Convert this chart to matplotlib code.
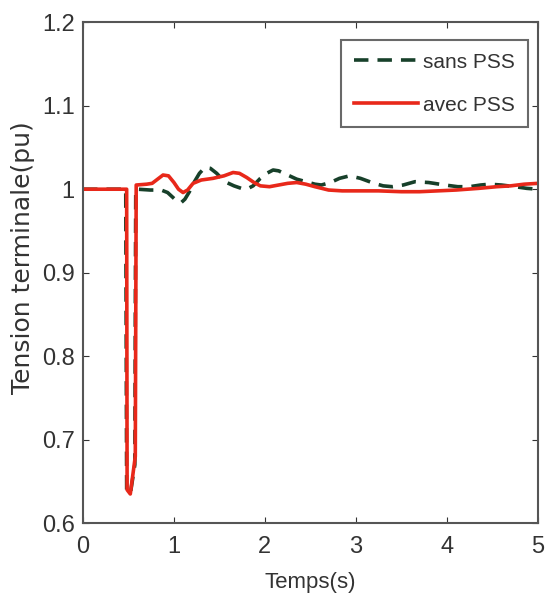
import matplotlib.pyplot as plt

# time (s) and terminal voltage (pu)
t_sans = [0, 0.47, 0.475, 0.48, 0.52, 0.57, 0.575, 0.58, 0.60, 0.74, 0.86, 0.93, 0.99, 1.04, 1.08,
          1.12, 1.17, 1.22, 1.28, 1.34, 1.40, 1.47, 1.53, 1.58, 1.66, 1.74, 1.80, 1.87, 1.95, 2.02,
          2.09, 2.15, 2.25, 2.35, 2.45, 2.55, 2.62, 2.72, 2.82, 2.93, 3.05, 3.20, 3.30, 3.40, 3.52,
          3.65, 3.80, 3.98, 4.12, 4.25, 4.37, 4.47, 4.60, 4.75, 4.88, 5.0]
v_sans = [1.0, 1.0, 0.82, 0.64, 0.635, 0.67, 0.85, 1.0, 1.0, 0.999, 0.999, 0.996, 0.99, 0.985, 0.984,
          0.988, 0.997, 1.008, 1.019, 1.026, 1.025, 1.019, 1.012, 1.008, 1.004, 1.001, 1.0, 1.004,
          1.013, 1.019, 1.023, 1.022, 1.017, 1.012, 1.009, 1.006, 1.005, 1.008, 1.013, 1.016, 1.013,
          1.007, 1.004, 1.003, 1.005, 1.009, 1.008, 1.005, 1.003, 1.003, 1.005, 1.006, 1.005, 1.003,
          1.001, 1.0]

t_avec = [0, 0.48, 0.485, 0.52, 0.575, 0.585, 0.70, 0.76, 0.82, 0.88, 0.94, 1.00, 1.05, 1.10,
          1.15, 1.21, 1.30, 1.43, 1.55, 1.65, 1.72, 1.80, 1.88, 1.95, 2.05, 2.15, 2.25, 2.35,
          2.45, 2.55, 2.70, 2.85, 3.0, 3.25, 3.5, 3.7, 3.9, 4.1, 4.35, 4.55, 4.7, 4.85, 5.0]
v_avec = [1.0, 1.0, 0.64, 0.635, 0.68, 1.005, 1.006, 1.007, 1.012, 1.017, 1.016, 1.008, 1.0, 0.996,
          0.999, 1.007, 1.011, 1.013, 1.016, 1.02, 1.019, 1.014, 1.008, 1.004, 1.003, 1.005, 1.007,
          1.008, 1.006, 1.003, 0.999, 0.998, 0.998, 0.998, 0.997, 0.997, 0.998, 0.999, 1.001,
          1.003, 1.004, 1.006, 1.007]

green = "#17402a"
red = "#e8281a"
txt_c = "#333333"

plt.rcParams["font.family"] = ["Liberation Sans", "DejaVu Sans"]

fig = plt.figure(figsize=(5.46, 6), dpi=100)
ax = fig.add_axes([0.152, 0.128, 0.833, 0.835])

ax.plot(t_sans, v_sans, ls=(0, (4, 2.5)), lw=2.6, c=green, label="sans PSS")
ax.plot(t_avec, v_avec, ls="-", lw=2.6, c=red, label="avec PSS")

ax.set_xlim(0, 5)
ax.set_ylim(0.6, 1.2)
ax.set_xticks([0, 1, 2, 3, 4, 5])
ax.set_yticks([0.6, 0.7, 0.8, 0.9, 1.0, 1.1, 1.2])
ax.set_yticklabels(["0.6", "0.7", "0.8", "0.9", "1", "1.1", "1.2"])
ax.tick_params(direction="in", top=True, right=True, labelsize=17, length=4, colors=txt_c,
               labelcolor=txt_c)
ax.tick_params(axis="x", pad=9)
ax.tick_params(axis="y", pad=6)
for s in ax.spines.values():
    s.set_color("#555555")
    s.set_linewidth(1.5)

ax.set_xlabel("Temps(s)", fontsize=16, color=txt_c, labelpad=10)
ax.set_ylabel("Tension terminale(pu)", fontsize=18, color=txt_c,
              family=["DejaVu Sans"])
ax.yaxis.set_label_coords(-0.105, 0.53)

leg = ax.legend(loc="upper right", fontsize=15, frameon=True, fancybox=False, handlelength=3.1,
                handletextpad=0.25, borderpad=0.6, labelspacing=1.15, borderaxespad=0,
                bbox_to_anchor=(0.978, 0.964))
leg.get_frame().set_edgecolor("#444444")
leg.get_frame().set_linewidth(1.5)
for txt in leg.get_texts():
    txt.set_color(txt_c)

fig.savefig("out.png", dpi=100)
